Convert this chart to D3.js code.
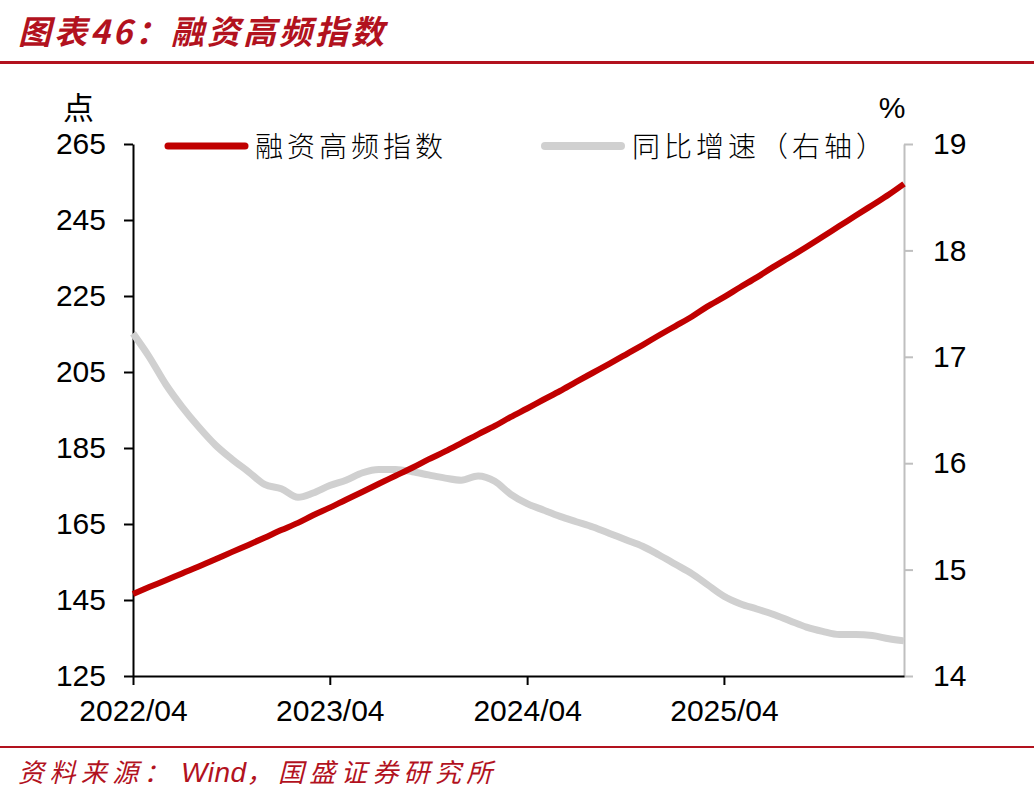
<!DOCTYPE html>
<html>
<head>
<meta charset="utf-8">
<script src="https://cdn.jsdelivr.net/npm/d3@7"></script>
<style>
  html, body { margin: 0; padding: 0; background: #ffffff; }
  svg { display: block; }
</style>
</head>
<body>
<svg id="chart" width="1034" height="796"></svg>
<script>
// ---- data ----
const months = ["2022-04","2022-05","2022-06","2022-07","2022-08","2022-09","2022-10","2022-11","2022-12",
  "2023-01","2023-02","2023-03","2023-04","2023-05","2023-06","2023-07","2023-08","2023-09","2023-10","2023-11","2023-12",
  "2024-01","2024-02","2024-03","2024-04","2024-05","2024-06","2024-07","2024-08","2024-09","2024-10","2024-11","2024-12",
  "2025-01","2025-02","2025-03","2025-04","2025-05","2025-06","2025-07","2025-08","2025-09","2025-10","2025-11","2025-12",
  "2026-01","2026-02","2026-03"];
const indexValues = [146.6,148.4,150.2,152.0,153.8,155.7,157.6,159.5,161.4,163.4,165.3,167.3,169.3,171.4,173.5,175.6,177.7,179.8,182.0,184.1,186.3,
  188.6,190.8,193.1,195.4,197.7,200.0,202.4,204.8,207.2,209.6,212.1,214.6,217.1,219.6,222.2,224.7,227.3,229.9,232.6,235.2,237.9,240.6,243.4,246.1,248.9,251.7,254.5];
const yoyValues = [17.22,17.00,16.74,16.53,16.34,16.17,16.04,15.92,15.80,15.76,15.68,15.72,15.79,15.84,15.91,15.94,15.94,15.92,15.89,15.86,15.84,
  15.88,15.83,15.71,15.62,15.56,15.50,15.45,15.40,15.34,15.28,15.22,15.14,15.05,14.96,14.86,14.75,14.68,14.63,14.58,14.52,14.46,14.42,14.39,14.39,14.38,14.35,14.33];
const xTickLabels = ["2022/04","2023/04","2024/04","2025/04"];
const leftTicks = [125,145,165,185,205,225,245,265];
const rightTicks = [14,15,16,17,18,19];
const seriesNames = ["融资高频指数","同比增速（右轴）"];
const titleText = "图表46：融资高频指数";
const sourceParts = ["资料来源：", "Wind", "，国盛证券研究所"];

// ---- drawing ----
const svg = d3.select("#chart");
const RED = "#C00000", DARK_RED = "#B2121E", GRAY = "#D0D0D0";
const parse = d3.timeParse("%Y-%m");
const parseTick = d3.timeParse("%Y/%m");
const data = months.map((m, i) => ({ date: parse(m), idx: indexValues[i], yoy: yoyValues[i] }));

const plotL = 133, plotR = 904, plotT = 144, plotB = 676;
const x = d3.scaleTime().domain([parse(months[0]), parse(months[months.length - 1])]).range([plotL, plotR]);
const yL = d3.scaleLinear().domain([125, 265]).range([plotB, plotT]);
const yR = d3.scaleLinear().domain([14, 19]).range([plotB, plotT]);

const numFont = "'Liberation Sans', Arial, sans-serif";
const cjkFont = "'Noto Sans CJK SC', sans-serif";

// title
svg.append("text").attr("x", 18).attr("y", 44)
  .attr("font-family", cjkFont).attr("font-size", 33).attr("font-weight", "bold")
  .attr("font-style", "italic").attr("fill", DARK_RED).attr("letter-spacing", 3)
  .text(titleText);
svg.append("rect").attr("x", 0).attr("y", 61).attr("width", 1034).attr("height", 3).attr("fill", DARK_RED);

// footer
svg.append("rect").attr("x", 0).attr("y", 746).attr("width", 1034).attr("height", 2).attr("fill", DARK_RED);
const src = svg.append("text").attr("x", 18).attr("y", 782)
  .attr("font-style", "italic").attr("fill", DARK_RED);
src.append("tspan").attr("font-family", cjkFont).attr("font-size", 26).attr("letter-spacing", 5.4).text(sourceParts[0]);
src.append("tspan").attr("dx", 6).attr("font-family", numFont).attr("font-size", 28).attr("letter-spacing", 0.5).text(sourceParts[1]);
src.append("tspan").attr("font-family", cjkFont).attr("font-size", 26).attr("letter-spacing", 5.4).text(sourceParts[2]);

// axes
const gL = svg.append("g").attr("transform", `translate(${plotL},0)`)
  .call(d3.axisLeft(yL).tickValues(leftTicks).tickSize(9).tickPadding(18).tickSizeOuter(0));
gL.selectAll("path, line").attr("stroke", "#000").attr("stroke-width", 2);
gL.selectAll("text").attr("font-family", numFont).attr("font-size", 30).attr("fill", "#000");

const gR = svg.append("g").attr("transform", `translate(${plotR},0)`)
  .call(d3.axisRight(yR).tickValues(rightTicks).tickFormat(d3.format("d")).tickSize(9).tickPadding(20).tickSizeOuter(0));
gR.selectAll("path, line").attr("stroke", "#BFBFBF").attr("stroke-width", 2);
gR.selectAll("text").attr("font-family", numFont).attr("font-size", 30).attr("fill", "#000");

const gX = svg.append("g").attr("transform", `translate(0,${plotB})`)
  .call(d3.axisBottom(x).tickValues(xTickLabels.map(parseTick)).tickFormat(d3.timeFormat("%Y/%m"))
    .tickSize(9).tickPadding(15).tickSizeOuter(0));
gX.selectAll("path, line").attr("stroke", "#000").attr("stroke-width", 2);
gX.selectAll("text").attr("font-family", numFont).attr("font-size", 30).attr("fill", "#000");

// unit labels
svg.append("text").attr("x", 94).attr("y", 119).attr("text-anchor", "end")
  .attr("font-family", cjkFont).attr("font-size", 31).attr("fill", "#000").text("点");
svg.append("text").attr("x", 892).attr("y", 118).attr("text-anchor", "middle")
  .attr("font-family", numFont).attr("font-size", 30).attr("fill", "#000").text("%");

// lines
const lineYoy = d3.line().x(d => x(d.date)).y(d => yR(d.yoy)).curve(d3.curveMonotoneX);
const lineIdx = d3.line().x(d => x(d.date)).y(d => yL(d.idx)).curve(d3.curveMonotoneX);
svg.append("path").datum(data).attr("d", lineYoy).attr("fill", "none")
  .attr("stroke", GRAY).attr("stroke-width", 7).attr("stroke-linejoin", "round");
svg.append("path").datum(data).attr("d", lineIdx).attr("fill", "none")
  .attr("stroke", RED).attr("stroke-width", 6).attr("stroke-linejoin", "round");

// legend
const legend = [
  { name: seriesNames[0], color: RED, w: 7, x1: 168, x2: 245, tx: 255 },
  { name: seriesNames[1], color: GRAY, w: 8, x1: 545, x2: 621, tx: 632 }
];
legend.forEach(l => {
  svg.append("line").attr("x1", l.x1).attr("x2", l.x2).attr("y1", 146).attr("y2", 146)
    .attr("stroke", l.color).attr("stroke-width", l.w).attr("stroke-linecap", "round");
  svg.append("text").attr("x", l.tx).attr("y", 157)
    .attr("font-family", cjkFont).attr("font-size", 28).attr("font-weight", 300)
    .attr("letter-spacing", 4).attr("fill", "#000").text(l.name);
});
</script>
</body>
</html>
